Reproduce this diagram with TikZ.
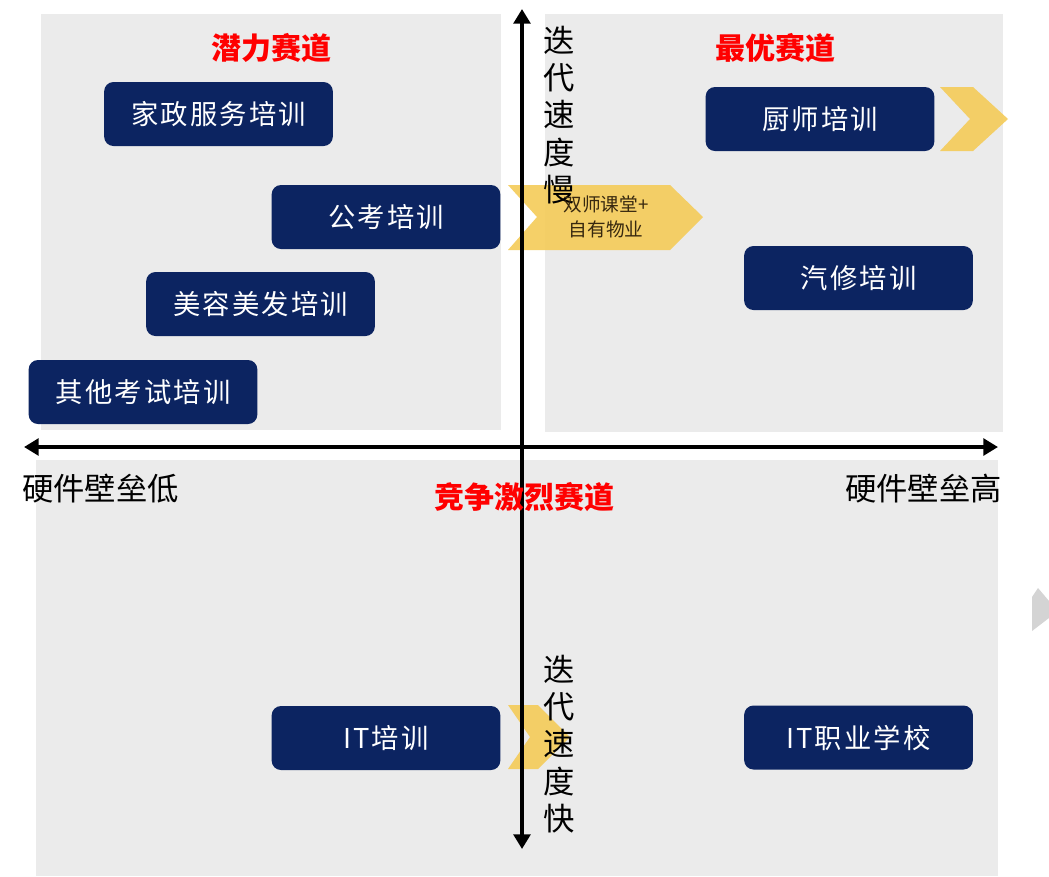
\documentclass[tikz,border=0pt]{standalone}
\usepackage{fontspec}
\setmainfont{Noto Sans CJK SC}
\newfontfamily\boxfont[LetterSpace=8]{Noto Sans CJK SC}
\usetikzlibrary{arrows.meta}
\definecolor{panel}{RGB}{235,235,235}
\definecolor{navy}{RGB}{12,36,97}
\definecolor{gold}{RGB}{244,203,88}
\definecolor{chevgray}{RGB}{212,212,212}
\definecolor{brownish}{RGB}{55,40,15}
\begin{document}
\begin{tikzpicture}[x=0.75pt,y=-0.75pt,
  box/.style={fill=navy, rounded corners=7pt, minimum width=171.5pt, minimum height=48pt,
    text=white, font=\boxfont\fontsize{20.5}{24}\selectfont, inner sep=0pt},
  title/.style={text=red, font=\fontsize{22.5}{26}\selectfont\bfseries},
  axislabel/.style={text=black, font=\fontsize{23.5}{28}\selectfont, inner sep=0pt},
  axisline/.style={line width=3.2pt, {Triangle[length=11pt,width=12.5pt]}-{Triangle[length=11pt,width=12.5pt]}},
  chev/.style={fill=gold, opacity=0.9},
]
\useasboundingbox (0,0) rectangle (1049,876);
\fill[white] (0,0) rectangle (1049,876);
% panels
\fill[panel] (41,14) rectangle (501,430);
\fill[panel] (545,14) rectangle (1003,432);
\fill[panel] (36,460) rectangle (998,876);
% boxes
\node[box] (jz) at (218.5,114) {家政服务培训};
\node[box] (gk) at (386,217) {公考培训};
\node[box] (mr) at (260.5,304) {美容美发培训};
\node[box] (qt) at (143,392) {其他考试培训};
\node[box] (cs) at (820,119) {厨师培训};
\node[box] (qx) at (858.5,278) {汽修培训};
\node[box] (it) at (386,738) {IT培训};
\node[box] (itz) at (858.5,737.5) {IT职业学校};
% chevrons
\fill[chev] (940,87) -- (973,87) -- (1008,119) -- (973,151) -- (940,151) -- (970,119) -- cycle;
\fill[chev] (508,185) -- (670,185) -- (703,217) -- (670,250) -- (508,250) -- (537,217) -- cycle;
\fill[chev] (508,705) -- (538,705) -- (570,737) -- (538,769) -- (508,769) -- (530,737) -- cycle;
\fill[chevgray] (1032,597) -- (1038,588) -- (1049,601) -- (1049,618) -- (1032,631) -- cycle;
% axes
\coordinate (xl) at (24,447);
\coordinate (xr) at (998,447);
\coordinate (yt) at (522,9);
\coordinate (yb) at (522,849);
\draw[axisline] (xl) -- (xr);
\draw[axisline] (yb) -- (yt);
% labels
\node[title] (t1) at (271,48) {潜力赛道};
\node[title] (t2) at (775,48) {最优赛道};
\node[title] (t3) at (524,497) {竞争激烈赛道};
\node[axislabel, anchor=west] (lo) at (22,489) {硬件壁垒低};
\node[axislabel, anchor=east] (hi) at (1002,489) {硬件壁垒高};
\node[axislabel, align=center] (slow) at (559,115) {迭\\代\\速\\度\\慢};
\node[axislabel, align=center] (fast) at (559,744) {迭\\代\\速\\度\\快};
\node[text=brownish, font=\fontsize{14}{19}\selectfont, align=center, inner sep=0pt] (sx) at (606,217) {双师课堂+\\自有物业};
\end{tikzpicture}
\end{document}
